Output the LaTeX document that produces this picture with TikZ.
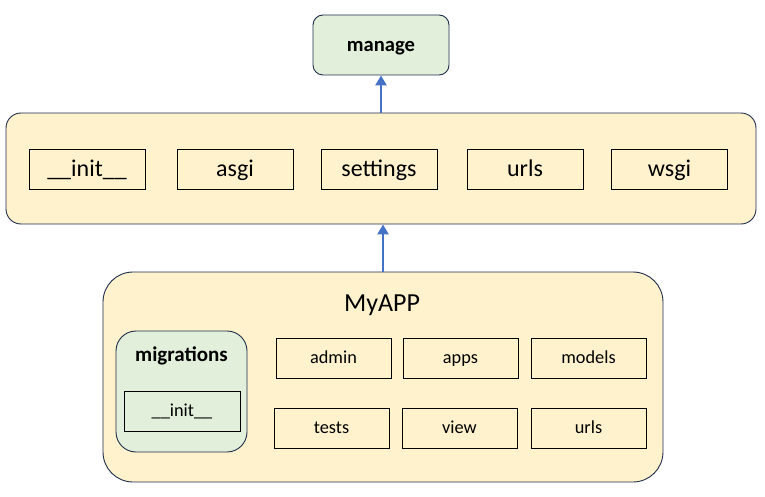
\documentclass[tikz,border=0pt]{standalone}
\usepackage{fontspec}
\setmainfont{Carlito}
\usetikzlibrary{arrows.meta}
\definecolor{boxfill}{HTML}{FFF2CC}
\definecolor{greenfill}{HTML}{E2EFDA}
\definecolor{edge}{HTML}{1F2D4D}
\definecolor{arrowblue}{HTML}{4472C4}
\tikzset{
  container/.style={draw=edge, line width=0.9pt, fill=boxfill, rounded corners=#1, inner sep=0pt},
  container/.default=15pt,
  gcontainer/.style={draw=edge, line width=0.9pt, fill=greenfill, rounded corners=#1, inner sep=0pt},
  item/.style={draw=black, line width=0.9pt, fill=boxfill, inner sep=0pt, minimum width=116pt, minimum height=40pt, font=\fontsize{24}{28}\selectfont, text height=20pt, text depth=5pt},
  smallitem/.style={item, minimum width=115pt, font=\fontsize{18.3}{22}\selectfont, text height=15pt, text depth=4pt},
  link/.style={draw=arrowblue, line width=2.8pt, -{Triangle[length=10pt,width=11pt]}},
}
\begin{document}
\begin{tikzpicture}[x=1pt,y=-1pt]
\useasboundingbox (0,0) rectangle (765,497);
% manage
\node[gcontainer=10pt, minimum width=136pt, minimum height=60pt, font=\fontsize{20.6}{24}\selectfont\bfseries, text height=17pt, text depth=4pt] (manage) at (381,45) {manage};
% top container
\node[container=15pt, minimum width=750pt, minimum height=111pt] (top) at (381,168.5) {};
\node[item] (init) at (87,169) {\_\_init\_\_};
\node[item] (asgi) at (235,169) {asgi};
\node[item] (settings) at (379,169) {settings};
\node[item] (urls) at (525,169) {urls};
\node[item] (wsgi) at (669.5,169) {wsgi};
% MyAPP container
\node[container=30pt, minimum width=560pt, minimum height=210pt] (app) at (383,377) {};
\node[font=\fontsize{26}{30}\selectfont, inner sep=0pt, anchor=base] (apptitle) at (382,311) {MyAPP};
\node[gcontainer=20pt, minimum width=131pt, minimum height=121pt] (mig) at (181.5,391.5) {};
\node[font=\fontsize{21}{25}\selectfont\bfseries, inner sep=0pt, anchor=base] (migtitle) at (181.5,361.5) {migrations};
\node[smallitem, fill=greenfill, minimum width=116pt] (miginit) at (182,411) {\_\_init\_\_};
\node[smallitem] (admin) at (333.5,358) {admin};
\node[smallitem] (apps) at (460.5,358) {apps};
\node[smallitem] (models) at (588.5,358) {models};
\node[smallitem] (tests) at (331.5,428) {tests};
\node[smallitem] (view) at (459.5,428) {view};
\node[smallitem] (urls2) at (588.5,428) {urls};
% arrows
\draw[link] (top.north -| manage.south) -- (manage.south);
\draw[link] (app.north) -- (app.north |- top.south);
\end{tikzpicture}
\end{document}
